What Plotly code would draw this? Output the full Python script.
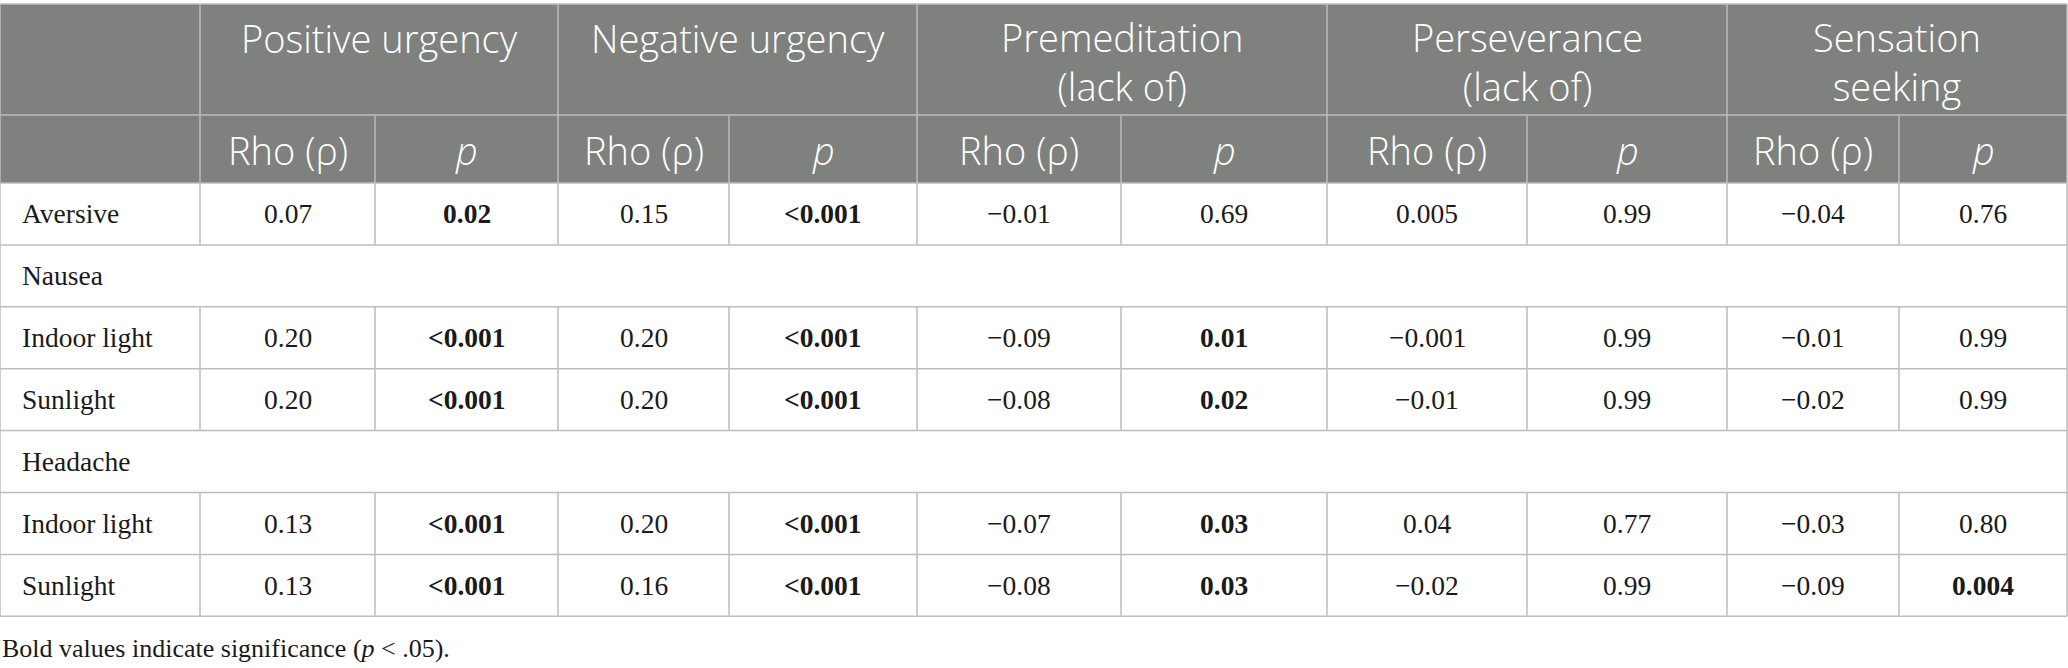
import plotly.graph_objects as go

W, H = 2068, 668

# ---- data ----
groups = ["Positive urgency", "Negative urgency", "Premeditation<br>(lack of)",
          "Perseverance<br>(lack of)", "Sensation<br>seeking"]
sub_headers = ["Rho (ρ)", "<i>p</i>"]

row_labels = ["Aversive", "Nausea", "Indoor light", "Sunlight", "Headache", "Indoor light", "Sunlight"]
is_section = [False, True, False, False, True, False, False]

aversive_vals = ["0.07", "0.02", "0.15", "<0.001", "−0.01", "0.69", "0.005", "0.99", "−0.04", "0.76"]
nausea_indoor_vals = ["0.20", "<0.001", "0.20", "<0.001", "−0.09", "0.01", "−0.001", "0.99", "−0.01", "0.99"]
nausea_sun_vals = ["0.20", "<0.001", "0.20", "<0.001", "−0.08", "0.02", "−0.01", "0.99", "−0.02", "0.99"]
headache_indoor_vals = ["0.13", "<0.001", "0.20", "<0.001", "−0.07", "0.03", "0.04", "0.77", "−0.03", "0.80"]
headache_sun_vals = ["0.13", "<0.001", "0.16", "<0.001", "−0.08", "0.03", "−0.02", "0.99", "−0.09", "0.004"]

row_values = [aversive_vals, None, nausea_indoor_vals, nausea_sun_vals, None,
              headache_indoor_vals, headache_sun_vals]

footnote = "Bold values indicate significance (<i>p</i> < .05)."

# ---- layout geometry ----
col_edges = [0, 200, 375, 558, 729, 917, 1121, 1327, 1527, 1727, 1899, 2067]
top = 4
h1_bottom = 115
h2_bottom = 183
row_h = 61.9

HEADER_BG = "#7f817f"
BORDER = "#bdbdbd"
HEAD_FONT = "Open Sans"
BODY_FONT = "Liberation Serif"
TEXT = "#1a1a1a"


def significant(p):
    if p.startswith("<"):
        return True
    return float(p) < 0.05


fig = go.Figure()
shapes = []
ann = []

# header background
shapes.append(dict(type="rect", x0=col_edges[0], x1=col_edges[-1], y0=top, y1=h2_bottom,
                   fillcolor=HEADER_BG, line=dict(width=0), layer="below"))


def hline(x0, x1, y):
    shapes.append(dict(type="line", x0=x0, x1=x1, y0=y, y1=y, line=dict(color=BORDER, width=1.5)))


def vline(x, y0, y1):
    shapes.append(dict(type="line", x0=x, x1=x, y0=y0, y1=y1, line=dict(color=BORDER, width=1.5)))


hline(col_edges[0], col_edges[-1], top)
hline(col_edges[0], col_edges[-1], h1_bottom)
hline(col_edges[0], col_edges[-1], h2_bottom)

head_font = dict(family=HEAD_FONT, size=38, color="white", weight=300)

# header row 1
for g, name in enumerate(groups):
    x0 = col_edges[1 + 2 * g]
    x1 = col_edges[3 + 2 * g]
    two_lines = "<br>" in name
    ann.append(dict(x=(x0 + x1) / 2, y=61 if two_lines else 38, text=name, showarrow=False,
                    xanchor="center", yanchor="middle", align="center", font=head_font))
for i in [0, 1, 3, 5, 7, 9, 11]:
    vline(col_edges[i], top, h1_bottom)

# header row 2
for c in range(1, 11):
    x0, x1 = col_edges[c], col_edges[c + 1]
    ann.append(dict(x=(x0 + x1) / 2, y=(h1_bottom + h2_bottom) / 2 + 1, text=sub_headers[(c - 1) % 2],
                    showarrow=False, xanchor="center", yanchor="middle", font=head_font))
for x in col_edges:
    vline(x, h1_bottom, h2_bottom)

body_font = dict(family=BODY_FONT, size=27.5, color=TEXT)

# body
y = h2_bottom
for r, label in enumerate(row_labels):
    y0, y1 = y, y + row_h
    yc = (y0 + y1) / 2
    ann.append(dict(x=20, y=yc, text=label, showarrow=False, xanchor="left", yanchor="middle",
                    font=body_font))
    if is_section[r]:
        vline(col_edges[0], y0, y1)
        vline(col_edges[-1], y0, y1)
    else:
        for x in col_edges:
            vline(x, y0, y1)
        vals = row_values[r]
        for c, v in enumerate(vals):
            xc = (col_edges[c + 1] + col_edges[c + 2]) / 2
            bold = (c % 2 == 1) and significant(v)
            txt = v.replace("<", "&lt;")
            if bold:
                txt = "<b>" + txt + "</b>"
            ann.append(dict(x=xc, y=yc, text=txt, showarrow=False, xanchor="center", yanchor="middle",
                            font=body_font))
    hline(col_edges[0], col_edges[-1], y1)
    y = y1

ann.append(dict(x=0, y=648, text=footnote, showarrow=False, xanchor="left", yanchor="middle",
                font=dict(family=BODY_FONT, size=26, color=TEXT)))

fig.update_layout(
    width=W, height=H,
    margin=dict(l=0, r=0, t=0, b=0),
    paper_bgcolor="white", plot_bgcolor="white",
    xaxis=dict(range=[0, W], visible=False, fixedrange=True),
    yaxis=dict(range=[H, 0], visible=False, fixedrange=True),
    shapes=shapes, annotations=ann, showlegend=False,
)

fig.write_html("out.html", config={"displayModeBar": False},
               post_script="document.body.style.margin='0px';")
